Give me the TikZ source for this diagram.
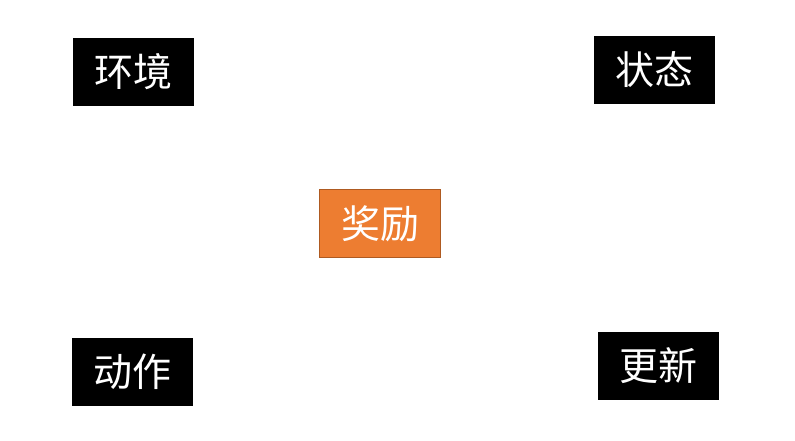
\documentclass[tikz,border=0pt]{standalone}
\usepackage{fontspec}
\newfontfamily\cjk{Noto Sans CJK SC}
\usepackage{tikz}
\usetikzlibrary{positioning}
\definecolor{rewardorange}{RGB}{237,125,49}
\definecolor{rewardedge}{RGB}{174,90,33}

\begin{document}
\begin{tikzpicture}[x=1pt,y=-1pt,every node/.style={minimum width=121pt,minimum height=68pt,inner sep=0pt,text=white,font=\cjk\fontsize{39}{39}\selectfont}]
\useasboundingbox (0,0) rectangle (795,440);
\node (env) at (133.5,72) [fill=black] {\raisebox{-2pt}{环境}};
\node (state) at (654.5,70) [fill=black] {\raisebox{-2pt}{状态}};
\node (reward) at (380,223.5) [fill=rewardorange,draw=rewardedge,line width=0.8pt] {\raisebox{-2pt}{奖励}};
\node (action) at (132.5,371.5) [fill=black] {\raisebox{-2pt}{动作}};
\node (update) at (658,366) [fill=black] {\raisebox{-2pt}{更新}};
\end{tikzpicture}
\end{document}
